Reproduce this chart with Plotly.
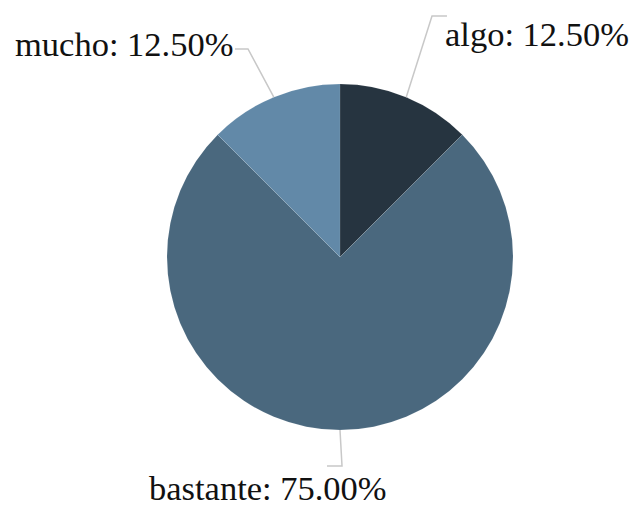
import math
import plotly.graph_objects as go

# Survey answers and their shares (percent)
labels = ["algo", "bastante", "mucho"]
values = [12.5, 75.0, 12.5]
colors = ["#263440", "#4a687e", "#6289a8"]

W, H = 636, 511
CX, CY, R = 340, 257, 173          # pie centre / radius in pixels
LEADER = "#c8c8c8"
FONT = dict(family="Liberation Serif, Times New Roman, serif", size=34.5, color="#111111")


def px(x, y):
    """pixel (top-left origin) -> paper coordinates"""
    return x / W, 1 - y / H


fig = go.Figure(go.Pie(
    labels=labels,
    values=values,
    sort=False,
    direction="clockwise",
    rotation=0,
    marker=dict(colors=colors, line=dict(color="rgba(255,255,255,0.15)", width=0.6)),
    textinfo="none",
    hoverinfo="label+percent",
    domain=dict(x=[(CX - R) / W, (CX + R) / W], y=[(H - CY - R) / H, (H - CY + R) / H]),
    showlegend=False,
))

# slice mid-angles (degrees clockwise from 12 o'clock) from the values
total = sum(values)
mids, acc = [], 0.0
for v in values:
    mids.append((acc + v / 2) / total * 360)
    acc += v


def edge(angle):
    a = math.radians(angle)
    return CX + R * math.sin(a), CY - R * math.cos(a)


# label layout: elbow points and text anchors (pixels)
label_layout = {
    "algo":     dict(elbow=[(432, 16), (447, 16)], text=(444, 34), xanchor="left"),
    "bastante": dict(elbow=[(342, 466), (327, 466)], text=(148, 488), xanchor="left"),
    "mucho":    dict(elbow=[(248, 49), (235, 49)], text=(234, 44), xanchor="right"),
}

shapes, annotations = [], []
for lab, v, ang in zip(labels, values, mids):
    cfg = label_layout[lab]
    pts = [edge(ang)] + cfg["elbow"]
    path = "M " + " L ".join(f"{px(x, y)[0]:.5f},{px(x, y)[1]:.5f}" for x, y in pts)
    shapes.append(dict(type="path", xref="paper", yref="paper", path=path,
                       line=dict(color=LEADER, width=1.5)))
    tx, ty = px(*cfg["text"])
    pct = v / total * 100
    annotations.append(dict(x=tx, y=ty, xref="paper", yref="paper",
                            text=f"{lab}: {pct:.2f}%", showarrow=False, borderpad=0,
                            xanchor=cfg["xanchor"], yanchor="middle", font=FONT))

fig.update_layout(
    width=W, height=H,
    margin=dict(l=0, r=0, t=0, b=0),
    paper_bgcolor="white",
    plot_bgcolor="white",
    shapes=shapes,
    annotations=annotations,
)

fig.write_html("out.html")
